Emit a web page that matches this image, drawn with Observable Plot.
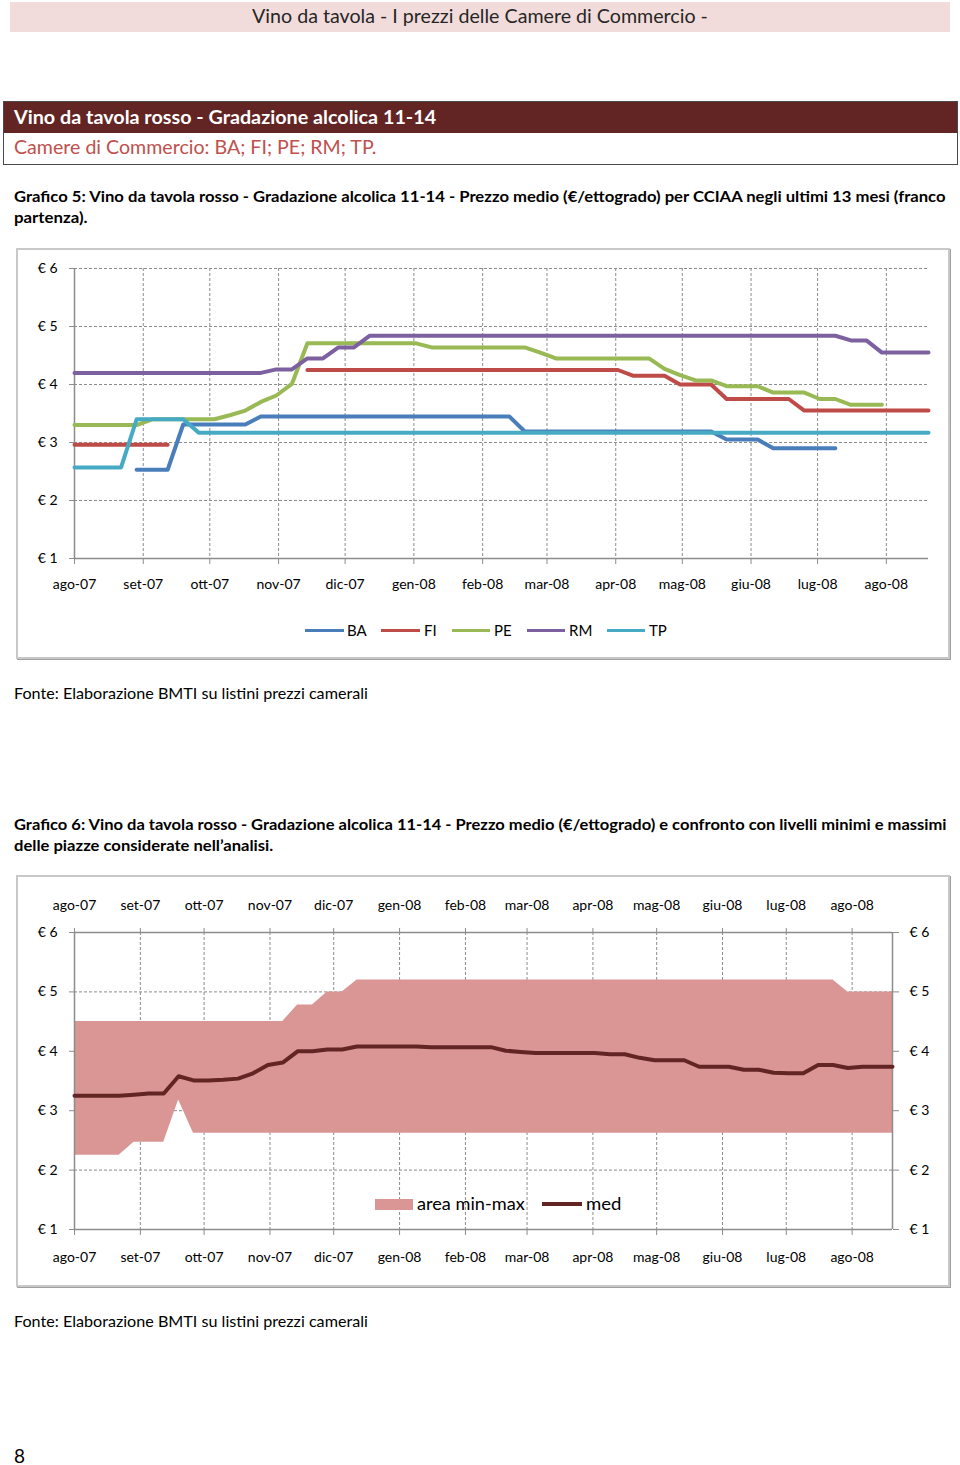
<!DOCTYPE html>
<html><head><meta charset="utf-8">
<script src="https://cdn.jsdelivr.net/npm/d3@7"></script>
<script src="https://cdn.jsdelivr.net/npm/@observablehq/plot@0.6"></script>
<style>
body{margin:0;width:960px;height:1465px;position:relative;background:#fff;font-family:Lato,"Open Sans",sans-serif;color:#000;overflow:hidden}
.abs{position:absolute;white-space:nowrap}
.fit{transform-origin:0 50%}
.frame{position:absolute;box-sizing:border-box;border:2px solid #C8C8C8;box-shadow:1px 1px 0 #A0A0A0}
.sw{position:absolute;height:3px}
.lg{position:absolute;font-size:15px;line-height:20px;white-space:nowrap}
</style></head><body>
<div class="abs" style="left:10px;top:2px;width:940px;height:30px;background:#F2DCDB"></div>
<div class="abs fit" data-w="456" style="left:252px;top:1px;line-height:30px;font-size:19px;color:#262626">Vino da tavola - I prezzi delle Camere di Commercio -</div>

<div class="abs" style="left:3px;top:101px;width:953px;height:62px;border:1px solid #4a4a4a;background:#fff"></div>
<div class="abs" style="left:4px;top:102px;width:953px;height:31px;background:#632523"></div>
<div class="abs fit" data-w="422" style="left:14px;top:101px;line-height:31px;font-size:19px;font-weight:bold;color:#fff">Vino da tavola rosso - Gradazione alcolica 11-14</div>
<div class="abs fit" data-w="362" style="left:14px;top:132px;line-height:30px;font-size:19px;color:#C0504D">Camere di Commercio: BA; FI; PE; RM; TP.</div>

<div class="abs fit" data-w="932" style="left:14px;top:186px;line-height:21px;font-size:15px;font-weight:bold">Grafico 5: Vino da tavola rosso - Gradazione alcolica 11-14 - Prezzo medio (€/ettogrado) per CCIAA negli ultimi 13 mesi (franco</div>
<div class="abs fit" data-w="74" style="left:14px;top:207px;line-height:21px;font-size:15px;font-weight:bold">partenza).</div>

<div class="frame" style="left:16px;top:248px;width:934px;height:411px"></div>
<div id="c1" class="abs" style="left:16px;top:248px"></div>
<div class="sw" style="left:305px;top:629px;width:39px;background:#4A7EBB"></div>
<div class="lg" style="left:347px;top:620px">BA</div>
<div class="sw" style="left:381px;top:629px;width:39px;background:#BE4B48"></div>
<div class="lg" style="left:424px;top:620px">FI</div>
<div class="sw" style="left:452px;top:629px;width:38px;background:#98B954"></div>
<div class="lg" style="left:494px;top:620px">PE</div>
<div class="sw" style="left:527px;top:629px;width:38px;background:#7D60A0"></div>
<div class="lg" style="left:569px;top:620px">RM</div>
<div class="sw" style="left:607px;top:629px;width:38px;background:#46AAC5"></div>
<div class="lg" style="left:649px;top:620px">TP</div>

<div class="abs fit" data-w="354" style="left:14px;top:683px;line-height:20px;font-size:16px">Fonte: Elaborazione BMTI su listini prezzi camerali</div>

<div class="abs fit" data-w="932" style="left:14px;top:814px;line-height:21px;font-size:15px;font-weight:bold">Grafico 6: Vino da tavola rosso - Gradazione alcolica 11-14 - Prezzo medio (€/ettogrado) e confronto con livelli minimi e massimi</div>
<div class="abs fit" data-w="259" style="left:14px;top:835px;line-height:21px;font-size:15px;font-weight:bold">delle piazze considerate nell’analisi.</div>

<div class="frame" style="left:16px;top:875px;width:934px;height:412px"></div>
<div id="c2" class="abs" style="left:16px;top:875px"></div>
<div class="abs" style="left:375px;top:1199px;width:38px;height:11px;background:#D99694"></div>
<div class="lg fit" data-w="108" style="left:417px;top:1193px;font-size:17.5px;line-height:22px">area min-max</div>
<div class="abs" style="left:542px;top:1202px;width:40px;height:4px;background:#632523"></div>
<div class="lg fit" data-w="35" style="left:586px;top:1193px;font-size:17.5px;line-height:22px">med</div>

<div class="abs fit" data-w="354" style="left:14px;top:1311px;line-height:20px;font-size:16px">Fonte: Elaborazione BMTI su listini prezzi camerali</div>
<div class="abs" style="left:14px;top:1444px;line-height:24px;font-size:19px">8</div>

<script>
// ---- axis labels ----
const tickLabels = ["ago-07","set-07","ott-07","nov-07","dic-07","gen-08","feb-08","mar-08","apr-08","mag-08","giu-08","lug-08","ago-08"];
const yTicks = [1, 2, 3, 4, 5, 6];
const seriesNames = ["BA", "FI", "PE", "RM", "TP"];
const seriesColors = ["#4A7EBB", "#BE4B48", "#98B954", "#7D60A0", "#46AAC5"];

// ---- weekly prices (€/ettogrado), 56 weeks from 1 Aug 2007 ----
const ba = [null,null,null,null,2.53,2.53,2.53,3.31,3.31,3.31,3.31,3.31,
  3.45,3.45,3.45,3.45,3.45,3.45,3.45,3.45,3.45,3.45,3.45,3.45,3.45,3.45,3.45,3.45,3.45,
  3.19,3.19,3.19,3.19,3.19,3.19,3.19,3.19,3.19,3.19,3.19,3.19,3.19,
  3.05,3.05,3.05,2.90,2.90,2.90,2.90,2.90,null,null,null,null,null,null];
const fi = [2.96,2.96,2.96,2.96,2.96,2.96,2.96,null,null,null,null,null,null,null,null,
  4.25,4.25,4.25,4.25,4.25,4.25,4.25,4.25,4.25,4.25,4.25,4.25,4.25,4.25,4.25,4.25,4.25,4.25,4.25,4.25,4.25,
  4.15,4.15,4.15,4.00,4.00,4.00,3.75,3.75,3.75,3.75,3.75,
  3.55,3.55,3.55,3.55,3.55,3.55,3.55,3.55,3.55];
const pe = [3.30,3.30,3.30,3.30,3.30,3.40,3.40,3.40,3.40,3.40,3.47,3.55,3.70,3.81,4.01,
  4.71,4.71,4.71,4.71,4.71,4.71,4.71,4.71,4.64,4.64,4.64,4.64,4.64,4.64,4.64,4.55,
  4.45,4.45,4.45,4.45,4.45,4.45,4.45,4.27,4.16,4.07,4.07,3.97,3.97,3.97,3.86,3.86,3.86,
  3.75,3.75,3.65,3.65,3.65,null,null,null];
const rm = [4.20,4.20,4.20,4.20,4.20,4.20,4.20,4.20,4.20,4.20,4.20,4.20,4.20,4.26,4.26,4.45,4.45,4.64,4.64,
  4.84,4.84,4.84,4.84,4.84,4.84,4.84,4.84,4.84,4.84,4.84,4.84,4.84,4.84,4.84,4.84,4.84,4.84,4.84,4.84,4.84,
  4.84,4.84,4.84,4.84,4.84,4.84,4.84,4.84,4.84,4.84,4.76,4.76,4.55,4.55,4.55,4.55];
const tp = [2.57,2.57,2.57,2.57,3.40,3.40,3.40,3.40,
  3.17,3.17,3.17,3.17,3.17,3.17,3.17,3.17,3.17,3.17,3.17,3.17,3.17,3.17,3.17,3.17,3.17,3.17,3.17,3.17,
  3.17,3.17,3.17,3.17,3.17,3.17,3.17,3.17,3.17,3.17,3.17,3.17,3.17,3.17,3.17,3.17,3.17,3.17,3.17,3.17,
  3.17,3.17,3.17,3.17,3.17,3.17,3.17,3.17];

const maxP = [4.5,4.5,4.5,4.5,4.5,4.5,4.5,4.5,4.5,4.5,4.5,4.5,4.5,4.5,4.5,4.78,4.78,5.0,5.0,
  5.2,5.2,5.2,5.2,5.2,5.2,5.2,5.2,5.2,5.2,5.2,5.2,5.2,5.2,5.2,5.2,5.2,5.2,5.2,5.2,5.2,5.2,5.2,5.2,5.2,
  5.2,5.2,5.2,5.2,5.2,5.2,5.2,5.2,5.0,5.0,5.0,5.0];
const minP = [2.25,2.25,2.25,2.25,2.47,2.47,2.47,3.18,
  2.62,2.62,2.62,2.62,2.62,2.62,2.62,2.62,2.62,2.62,2.62,2.62,2.62,2.62,2.62,2.62,2.62,2.62,2.62,2.62,
  2.62,2.62,2.62,2.62,2.62,2.62,2.62,2.62,2.62,2.62,2.62,2.62,2.62,2.62,2.62,2.62,2.62,2.62,2.62,2.62,
  2.62,2.62,2.62,2.62,2.62,2.62,2.62,2.62];
const med = [3.25,3.25,3.25,3.25,3.27,3.29,3.29,3.58,3.51,3.51,3.52,3.54,3.63,3.77,3.81,4.00,4.00,4.03,4.03,
  4.08,4.08,4.08,4.08,4.08,4.07,4.07,4.07,4.07,4.07,4.01,3.99,3.97,3.97,3.97,3.97,3.97,3.95,3.95,3.89,
  3.85,3.85,3.85,3.74,3.74,3.74,3.69,3.69,3.64,3.63,3.63,3.77,3.77,3.72,3.74,3.74,3.74];

// ---- time axis ----
const weeks = d3.range(56).map(k => new Date(Date.UTC(2007, 7, 1 + 7 * k)));
const monthTicks = tickLabels.map((_, i) => new Date(Date.UTC(2007, 7 + i, 1)));
const fmtMonth = d => tickLabels[monthTicks.findIndex(t => +t === +d)] ?? "";
const xDomain = [weeks[0], weeks[weeks.length - 1]];
const gridC = "#8C8C8C";
const baseStyle = {fontFamily: "Lato, sans-serif", fontSize: "14px", color: "#000", background: "transparent", overflow: "visible"};

const seriesValues = [ba, fi, pe, rm, tp];

const chart1 = Plot.plot({
  width: 934, height: 350,
  marginLeft: 58, marginRight: 22, marginTop: 20, marginBottom: 40,
  x: {type: "utc", domain: xDomain},
  y: {domain: [1, 6]},
  style: baseStyle,
  marks: [
    Plot.gridY([2, 3, 4, 5, 6], {stroke: gridC, strokeOpacity: 1, strokeDasharray: "3,2"}),
    Plot.gridX(monthTicks.slice(1), {stroke: gridC, strokeOpacity: 1, strokeDasharray: "3,2"}),
    Plot.ruleY([1], {stroke: gridC, strokeWidth: 1.5}),
    Plot.ruleX([weeks[0]], {stroke: gridC, strokeWidth: 1.5}),
    Plot.axisY({ticks: yTicks, tickFormat: d => "€ " + d, tickSize: 5, tickPadding: 12, stroke: gridC, label: null}),
    Plot.axisX({ticks: monthTicks, tickFormat: fmtMonth, tickSize: 6, tickPadding: 15, stroke: gridC, label: null}),
    ...seriesValues.map((vals, i) => Plot.line(vals, {
      x: weeks, y: vals, stroke: seriesColors[i], strokeWidth: 4,
      strokeLinejoin: "round", strokeLinecap: "round", title: () => seriesNames[i]
    }))
  ]
});
document.getElementById("c1").appendChild(chart1);

const chart2 = Plot.plot({
  width: 934, height: 400,
  marginLeft: 58, marginRight: 58, marginTop: 57, marginBottom: 46,
  x: {type: "utc", domain: xDomain},
  y: {domain: [1, 6]},
  style: baseStyle,
  marks: [
    Plot.gridY([2, 3, 4, 5], {stroke: gridC, strokeOpacity: 1, strokeDasharray: "3,2"}),
    Plot.gridX(monthTicks.slice(1), {stroke: gridC, strokeOpacity: 1, strokeDasharray: "3,2"}),
    Plot.areaY(maxP, {x: weeks, y1: minP, y2: maxP, fill: "#D99694", fillOpacity: 1}),
    Plot.ruleY([1, 6], {stroke: gridC, strokeWidth: 1.5}),
    Plot.ruleX([weeks[0], weeks[weeks.length - 1]], {stroke: gridC, strokeWidth: 1.5}),
    Plot.line(med, {x: weeks, y: med, stroke: "#632523", strokeWidth: 4, strokeLinejoin: "round", strokeLinecap: "round"}),
    Plot.axisY({anchor: "left", ticks: yTicks, tickFormat: d => "€ " + d, tickSize: 5, tickPadding: 12, stroke: gridC, label: null}),
    Plot.axisY({anchor: "right", ticks: yTicks, tickFormat: d => "€ " + d, tickSize: 6, tickPadding: 11, stroke: gridC, label: null}),
    Plot.axisX({anchor: "bottom", ticks: monthTicks, tickFormat: fmtMonth, tickSize: 6, tickPadding: 17, stroke: gridC, label: null}),
    Plot.axisX({anchor: "top", ticks: monthTicks, tickFormat: fmtMonth, tickSize: 5, tickPadding: 18, stroke: gridC, label: null})
  ]
});
document.getElementById("c2").appendChild(chart2);

// fit text widths to the reference layout
document.querySelectorAll("[data-w]").forEach(el => {
  const w = el.offsetWidth;
  const target = +el.dataset.w;
  if (w > 0) el.style.transform = `scaleX(${target / w})`;
});
</script>
</body></html>
